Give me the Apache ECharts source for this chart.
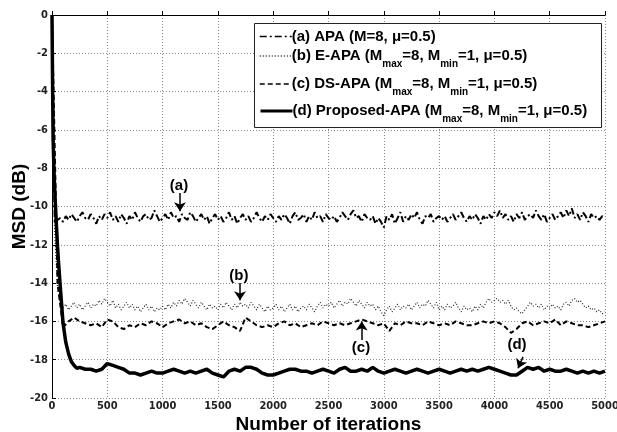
<!DOCTYPE html>
<html lang="en">

<head>
    <meta charset="UTF-8">
    <title>MSD vs iterations</title>
    <script src="https://cdnjs.cloudflare.com/ajax/libs/echarts/6.0.0/echarts.min.js"></script>
    <style>
        body { margin: 0; background: #fff; }
    </style>
</head>

<body>
    <div id="main" style="width: 617px;height:432px;"></div>

    <script>
        // iteration grids (x positions of the samples)
        function range(start, stop, step) {
            var out = [];
            for (var i = start; i <= stop; i += step) out.push(i);
            return out;
        }
        var itersA = [0].concat(range(25, 5000, 25));
        var itersB = itersA;
        var itersC = range(0, 5000, 50);
        var itersD = [0, 5, 10, 20, 30, 40, 50, 60, 75, 100, 125, 150, 175, 200, 225].concat(range(250, 5000, 50));

        // (a) APA, read every 25 iterations
        var msdA = [0,
            -10.9, -10.7, -10.6, -10.8, -10.5, -10.7, -10.4, -10.6, -10.8, -10.5, -10.3, -10.6, -10.7, -10.4, -10.6, -10.9, -10.5, -10.7, -10.4, -10.6,
            -10.3, -10.7, -10.5, -10.8, -10.4, -10.6, -10.9, -10.5, -10.7, -10.3, -10.6, -10.8, -10.5, -10.4, -10.7, -10.6, -10.2, -10.5, -10.8, -10.6,
            -10.4, -10.7, -10.3, -10.6, -10.5, -10.8, -10.4, -10.6, -10.7, -10.3, -10.5, -10.8, -10.6, -10.4, -10.7, -10.5, -10.9, -10.6, -10.4, -10.7,
            -10.5, -10.8, -10.6, -10.3, -10.7, -10.5, -10.9, -10.6, -10.4, -10.7, -10.5, -10.8, -10.6, -10.3, -10.6, -10.8, -10.5, -10.7, -10.4, -10.6,
            -10.8, -10.5, -10.7, -10.4, -10.6, -10.9, -10.5, -10.3, -10.7, -10.6, -10.4, -10.8, -10.5, -10.7, -10.3, -10.6, -10.5, -10.8, -10.4, -10.6,
            -10.7, -10.5, -10.8, -10.6, -10.3, -10.5, -10.7, -10.4, -10.2, -10.6, -10.5, -10.8, -10.4, -10.6, -10.7, -10.5, -10.9, -10.6, -10.8, -11.1,
            -10.5, -10.7, -10.4, -10.9, -10.6, -10.3, -10.8, -10.5, -10.7, -10.4, -10.6, -10.3, -10.7, -10.9, -10.5, -10.6, -10.4, -10.8, -10.6, -10.5,
            -10.7, -10.5, -10.8, -10.6, -10.4, -10.7, -10.5, -10.3, -10.6, -10.8, -10.5, -10.7, -10.4, -10.6, -10.9, -10.5, -10.7, -10.4, -10.6, -10.3,
            -10.5, -10.2, -10.6, -10.4, -10.7, -10.5, -10.8, -10.4, -10.6, -10.3, -10.7, -10.5, -10.4, -10.6, -10.2, -10.5, -10.7, -10.4, -10.8, -10.6,
            -10.4, -10.7, -10.5, -10.3, -10.6, -10.2, -10.5, -10.1, -10.6, -10.4, -10.7, -10.3, -10.5, -10.8, -10.4, -10.6, -10.5, -10.7, -10.5, -10.6];

        // (b) E-APA, read every 25 iterations
        var msdB = [0,
            -11.5, -14.2, -15.0, -15.3, -15.1, -15.4, -15.2, -15.0, -15.3, -15.1, -15.4, -15.2, -15.0, -15.3, -15.1, -15.2, -14.9, -15.1, -14.8, -15.0,
            -15.2, -14.9, -15.3, -15.1, -15.4, -15.2, -15.0, -15.3, -15.1, -15.4, -15.2, -15.5, -15.3, -15.1, -15.4, -15.2, -15.5, -15.3, -15.4, -15.2,
            -15.4, -15.1, -15.3, -15.0, -15.2, -14.9, -15.1, -14.8, -15.0, -15.2, -14.9, -15.1, -15.3, -15.0, -15.2, -15.4, -15.1, -15.3, -15.2, -15.4,
            -15.1, -15.3, -15.0, -15.2, -15.4, -15.1, -15.3, -15.0, -15.2, -15.1, -15.3, -15.0, -15.2, -15.4, -15.1, -15.3, -15.5, -15.2, -15.4, -15.3,
            -15.1, -15.4, -15.2, -15.5, -15.3, -15.1, -15.4, -15.2, -15.5, -15.3, -15.2, -15.4, -15.1, -15.3, -15.5, -15.2, -15.0, -15.3, -15.1, -15.2,
            -15.0, -15.3, -15.1, -14.9, -15.2, -15.0, -15.1, -14.8, -15.0, -15.2, -14.9, -15.1, -15.3, -15.0, -15.2, -15.1, -15.4, -15.2, -15.5, -15.7,
            -15.4, -15.2, -15.5, -15.3, -15.1, -15.4, -15.2, -15.3, -15.1, -15.4, -15.2, -15.0, -15.3, -15.1, -15.2, -14.9, -15.1, -15.3, -15.0, -15.4,
            -15.2, -15.4, -15.1, -15.3, -15.2, -15.0, -15.3, -15.5, -15.2, -15.4, -15.3, -15.5, -15.2, -15.4, -15.1, -15.3, -15.0, -14.8, -15.0, -14.9,
            -14.8, -15.0, -14.9, -15.1, -14.9, -15.2, -15.4, -15.3, -15.5, -15.6, -15.4, -15.2, -15.0, -15.2, -15.1, -15.3, -15.1, -15.4, -15.2, -15.3,
            -15.1, -15.3, -15.2, -15.4, -15.1, -15.0, -15.2, -14.9, -14.8, -15.0, -14.9, -15.1, -15.3, -15.2, -15.4, -15.3, -15.5, -15.4, -15.6, -15.5];

        // (c) DS-APA, read every 50 iterations
        var msdC = [0,
            -14.0, -16.3, -16.0, -15.8, -16.0, -16.1, -16.2, -16.1, -16.3, -15.9,
            -16.0, -16.3, -16.4, -16.2, -16.3, -16.1, -16.2, -16.0, -16.1, -16.3,
            -16.1, -16.0, -15.9, -16.1, -16.0, -16.2, -16.1, -16.3, -16.4, -16.2,
            -16.0, -16.2, -16.3, -16.5, -15.8, -16.0, -16.2, -16.3, -16.2, -16.3,
            -16.1, -16.0, -16.2, -16.1, -16.3, -16.2, -16.1, -16.2, -16.0, -16.1,
            -16.2, -16.1, -16.2, -16.1, -16.0, -15.9, -16.0, -16.1, -16.2, -16.1,
            -16.5, -16.1, -16.2, -16.0, -16.1, -16.1, -16.2, -16.0, -16.1, -16.2,
            -16.1, -16.2, -16.0, -16.1, -16.2, -16.2, -16.1, -16.0, -16.1, -16.0,
            -16.1, -16.3, -16.6, -16.4, -16.1, -16.0, -16.2, -16.1, -16.0, -16.1,
            -15.9, -16.2, -16.0, -16.1, -16.2, -16.2, -16.3, -16.2, -16.1, -16.0];

        // (d) Proposed-APA, dense at the start, then every 50 iterations
        var msdD = [0, -3.5, -6.5, -8.5, -9.8, -11.0, -12.1, -13.0, -14.2, -16.1, -17.1, -17.7, -18.1, -18.3, -18.45,
            -18.4, -18.5, -18.5, -18.6, -18.5, -18.2, -18.3, -18.4, -18.5, -18.7,
            -18.7, -18.8, -18.7, -18.6, -18.7, -18.7, -18.6, -18.5, -18.6, -18.7,
            -18.6, -18.7, -18.6, -18.5, -18.7, -18.8, -18.9, -18.6, -18.5, -18.6,
            -18.4, -18.4, -18.5, -18.7, -18.8, -18.8, -18.7, -18.6, -18.5, -18.5,
            -18.6, -18.6, -18.7, -18.6, -18.5, -18.6, -18.7, -18.5, -18.4, -18.6,
            -18.6, -18.5, -18.6, -18.4, -18.6, -18.7, -18.6, -18.5, -18.6, -18.7,
            -18.6, -18.5, -18.6, -18.7, -18.6, -18.5, -18.6, -18.7, -18.6, -18.5,
            -18.6, -18.5, -18.6, -18.5, -18.4, -18.5, -18.6, -18.7, -18.8, -18.8,
            -18.6, -18.4, -18.5, -18.4, -18.6, -18.5, -18.6, -18.6, -18.5, -18.6,
            -18.7, -18.6, -18.7, -18.6, -18.7, -18.6];

        var seriesNames = ['(a) APA', '(b) E-APA', '(c) DS-APA', '(d) Proposed-APA'];
        var legendLabels = [
            '{t|(a) APA (M=8, μ=0.5)}',
            '{t|(b) E-APA (M}{s|max}{t|=8, M}{s|min}{t|=1, μ=0.5)}',
            '{t|(c) DS-APA (M}{s|max}{t|=8, M}{s|min}{t|=1, μ=0.5)}',
            '{t|(d) Proposed-APA (M}{s|max}{t|=8, M}{s|min}{t|=1, μ=0.5)}'
        ];
        var legendTops = [29, 43, 71, 98];
        // annotation: [label, text x, text y, arrow from x, y, arrow to x, y]
        var notes = [
            ['(a)', 1148, -8.9, 1157, -9.3, 1157, -10.25],
            ['(b)', 1690, -13.6, 1700, -14.0, 1700, -14.9],
            ['(c)', 2794, -17.4, 2800, -16.97, 2800, -16.0],
            ['(d)', 4204, -17.2, 4259, -17.85, 4214, -18.45]
        ];

        function pairs(xs, ys) {
            return xs.map(function (x, i) { return [x, ys[i]]; });
        }

        var font = "'Liberation Sans', Arial, sans-serif";
        var tickFont = "'Liberation Sans Narrow', 'DejaVu Sans Condensed', sans-serif";

        function makeSeries(k, xs, ys, lineStyle) {
            var n = notes[k];
            return {
                name: seriesNames[k],
                type: 'line',
                data: pairs(xs, ys),
                showSymbol: false,
                symbol: 'none',
                z: 2 + k,
                itemStyle: { color: lineStyle.color },
                lineStyle: lineStyle,
                markLine: {
                    silent: true,
                    symbol: ['none', 'arrow'],
                    symbolSize: 9,
                    label: { show: false },
                    lineStyle: { color: '#000', width: 1.5, type: 'solid' },
                    data: [[{ coord: [n[3], n[4]] }, { coord: [n[5], n[6]] }]]
                },
                markPoint: {
                    silent: true,
                    symbol: 'circle',
                    symbolSize: 1,
                    itemStyle: { color: 'rgba(0,0,0,0)' },
                    label: {
                        show: true, position: 'inside', formatter: n[0],
                        fontSize: 15, fontWeight: 'bold', fontFamily: font, color: '#000'
                    },
                    data: [{ coord: [n[1], n[2]] }]
                }
            };
        }

        var legends = seriesNames.map(function (name, k) {
            return {
                data: [name],
                left: 259,
                top: legendTops[k],
                padding: 0,
                itemWidth: 32,
                itemHeight: 10,
                itemGap: 2,
                selectedMode: false,
                itemStyle: { opacity: 0 },
                lineStyle: { width: k === 3 ? 3 : 1.5 },
                formatter: function () { return legendLabels[k]; },
                textStyle: {
                    padding: [0, 0, 0, -5],
                    rich: {
                        t: { fontSize: 15, fontWeight: 'bold', fontFamily: font, color: '#000', lineHeight: 17 },
                        s: { fontSize: 10, fontWeight: 'bold', fontFamily: font, color: '#000', lineHeight: 12, padding: [16, 0, 0, 0] }
                    }
                }
            };
        });

        var myChart = echarts.init(document.getElementById('main'));
        var option = {
            animation: false,
            backgroundColor: '#fff',
            grid: { left: 52, right: 12, top: 15, bottom: 34, containLabel: false, outerBoundsMode: 'none' },
            legend: legends,
            graphic: [{
                type: 'rect',
                left: 254, top: 23, z: 3,
                shape: { width: 347, height: 104 },
                style: { fill: '#fff', stroke: '#222', lineWidth: 1 }
            }],
            xAxis: {
                type: 'value',
                min: 0, max: 5000, interval: 500,
                name: 'Number of iterations',
                nameLocation: 'middle',
                nameGap: 17,
                nameMoveOverlap: false,
                nameTextStyle: { fontSize: 19, fontWeight: 'bold', fontFamily: font, color: '#000', verticalAlign: 'top' },
                axisLine: { lineStyle: { color: '#000', width: 1 } },
                axisTick: { inside: true, length: 4, lineStyle: { color: '#000' } },
                axisLabel: {
                    margin: 3, fontSize: 11, fontWeight: 'bold', fontFamily: tickFont, color: '#222',
                    formatter: function (v) { return String(v); }
                },
                splitLine: { show: true, lineStyle: { color: '#888', type: [1, 2], width: 1 } }
            },
            yAxis: {
                type: 'value',
                min: -20, max: 0, interval: 2,
                name: 'MSD (dB)',
                nameLocation: 'middle',
                nameGap: 23,
                nameMoveOverlap: false,
                nameTextStyle: { fontSize: 19, fontWeight: 'bold', fontFamily: font, color: '#000' },
                axisLine: { show: true, lineStyle: { color: '#000', width: 1 } },
                axisTick: { show: true, inside: true, length: 4, lineStyle: { color: '#000' } },
                axisLabel: {
                    margin: 4, fontSize: 11, fontWeight: 'bold', fontFamily: tickFont, color: '#222',
                    formatter: function (v) { return String(v); }
                },
                splitLine: { show: true, lineStyle: { color: '#888', type: [1, 2], width: 1 } }
            },
            series: [
                makeSeries(0, itersA, msdA, { color: '#000', width: 2, type: [7, 3, 2, 3] }),
                makeSeries(1, itersB, msdB, { color: '#222', width: 1.2, type: [1, 2] }),
                makeSeries(2, itersC, msdC, { color: '#000', width: 2, type: [5, 3] }),
                makeSeries(3, itersD, msdD, { color: '#000', width: 3.5, type: 'solid' })
            ]
        };
        myChart.setOption(option);
    </script>
</body>

</html>
